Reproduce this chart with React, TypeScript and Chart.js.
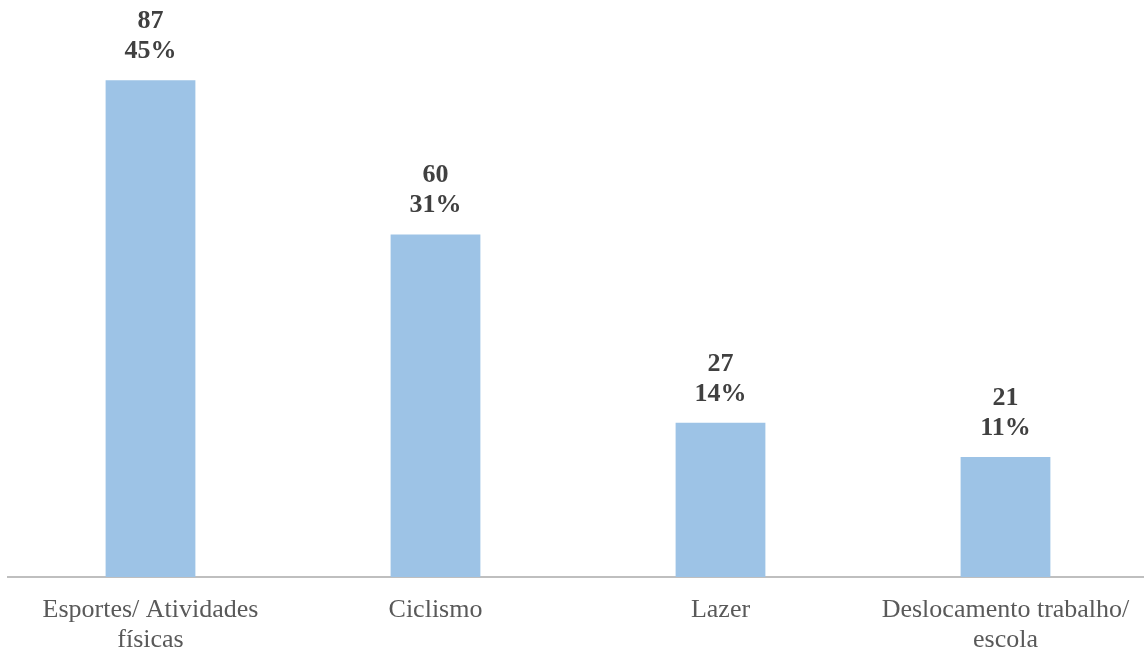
import React, { useEffect, useRef } from "react";
import { Chart, registerables } from "chart.js";

Chart.register(...registerables);

const categories: string[][] = [
  ["Esportes/ Atividades", "físicas"],
  ["Ciclismo"],
  ["Lazer"],
  ["Deslocamento trabalho/", "escola"],
];
const counts: number[] = [87, 60, 27, 21];
const percentLabels: string[] = ["45%", "31%", "14%", "11%"];

const labelPlugin = {
  id: "barLabels",
  afterDatasetsDraw(chart: any) {
    const ctx = chart.ctx;
    const meta = chart.getDatasetMeta(0);
    ctx.save();
    ctx.font = "bold 26px 'Liberation Serif', 'Times New Roman', serif";
    ctx.fillStyle = "#404040";
    ctx.textAlign = "center";
    ctx.textBaseline = "middle";
    meta.data.forEach((bar: any, i: number) => {
      ctx.fillText(String(counts[i]), bar.x, bar.y - 59);
      ctx.fillText(percentLabels[i], bar.x, bar.y - 29);
    });
    ctx.restore();
  },
};

export default function App() {
  const ref = useRef<HTMLCanvasElement>(null);
  useEffect(() => {
    if (!ref.current) return;
    const chart = new Chart(ref.current, {
      type: "bar",
      data: {
        labels: categories,
        datasets: [
          {
            data: counts,
            backgroundColor: "#9dc3e6",
            barPercentage: 0.63,
            categoryPercentage: 0.5,
          },
        ],
      },
      options: {
        animation: false,
        responsive: false,
        maintainAspectRatio: false,
        layout: { padding: { left: 8, right: 0, top: 6, bottom: 0 } },
        plugins: { legend: { display: false }, tooltip: { enabled: false } },
        scales: {
          x: {
            grid: { display: false, drawTicks: false },
            border: { display: true, color: "#bfbfbf", width: 2 },
            ticks: {
              color: "#595959",
              font: { family: "'Liberation Serif', 'Times New Roman', serif", size: 26, lineHeight: 1.15 },
              padding: 18,
              maxRotation: 0,
              autoSkip: false,
            },
            afterFit: (scale: any) => {
              scale.height = 77;
            },
          },
          y: {
            display: false,
            min: 0,
            max: 100,
          },
        },
      },
      plugins: [labelPlugin],
    });
    return () => chart.destroy();
  }, []);
  return (
    <div style={{ position: "fixed", left: 0, top: 0, width: 1144, height: 654, overflow: "hidden", background: "#fff" }}>
      <canvas ref={ref} width={1148} height={654} style={{ width: 1148, height: 654, display: "block" }} />
    </div>
  );
}
